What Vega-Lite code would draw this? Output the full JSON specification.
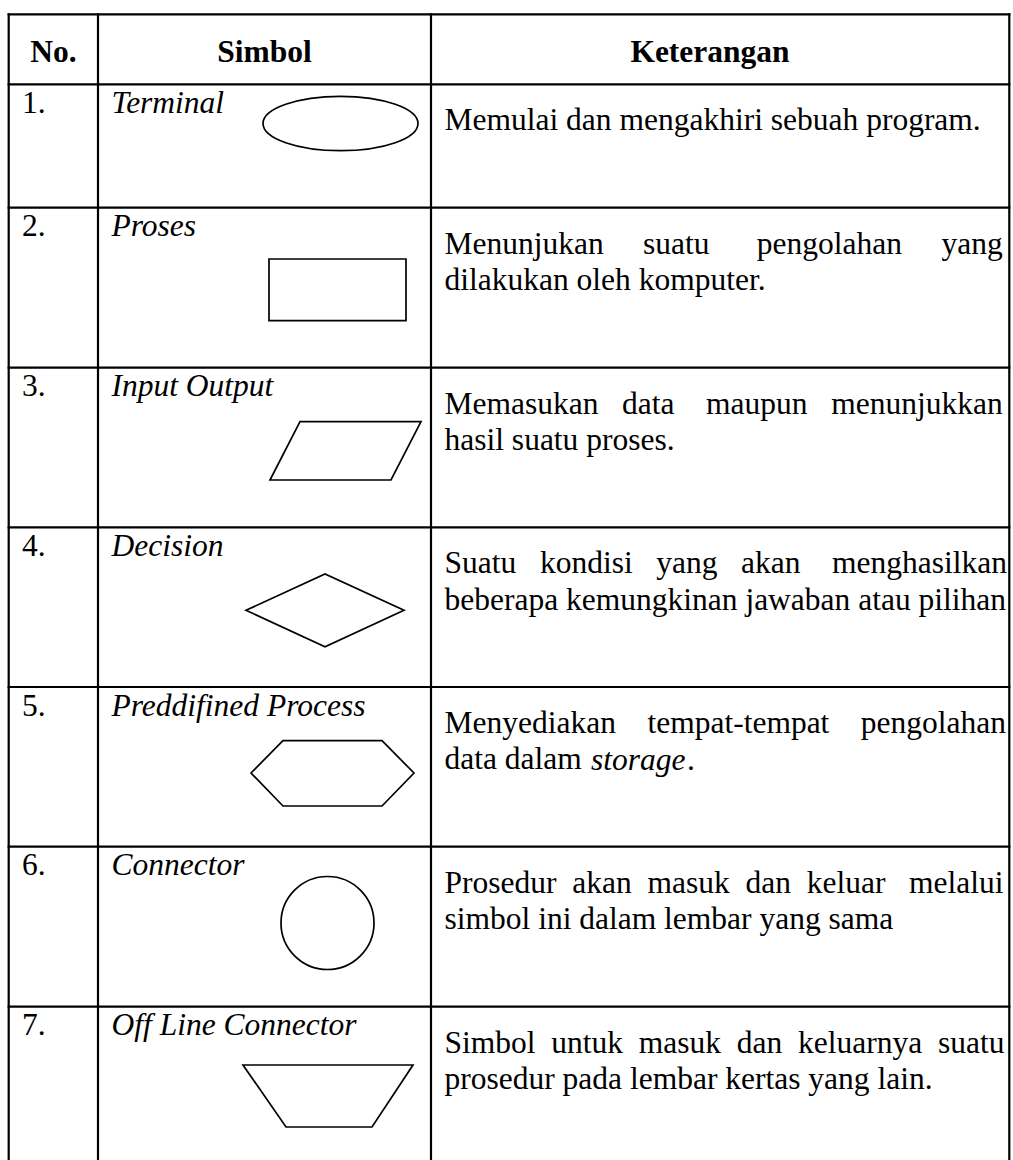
{
  "$schema": "https://vega.github.io/schema/vega-lite/v6.json",
  "width": 1013,
  "height": 1160,
  "padding": 0,
  "autosize": {"type": "none"},
  "background": "white",
  "config": {"view": {"stroke": null}},
  "datasets": {
    "header": [
      {"row": 0, "col": 0, "label": "No."},
      {"row": 0, "col": 1, "label": "Simbol"},
      {"row": 0, "col": 2, "label": "Keterangan"}
    ],
    "rows": [
      {"row": 1, "no": "1.", "simbol": "Terminal", "ket": ["Memulai dan mengakhiri sebuah program."]},
      {"row": 2, "no": "2.", "simbol": "Proses", "ket": ["Menunjukan \u00a0\u00a0\u00a0\u00a0suatu \u00a0\u00a0\u00a0\u00a0\u00a0pengolahan \u00a0\u00a0\u00a0\u00a0yang", "dilakukan oleh komputer."]},
      {"row": 3, "no": "3.", "simbol": "Input Output", "ket": ["Memasukan \u00a0\u00a0data \u00a0\u00a0\u00a0maupun \u00a0\u00a0menunjukkan", "hasil suatu proses."]},
      {"row": 4, "no": "4.", "simbol": "Decision", "ket": ["Suatu \u00a0\u00a0kondisi \u00a0\u00a0yang \u00a0\u00a0akan \u00a0\u00a0\u00a0menghasilkan", "beberapa kemungkinan jawaban atau pilihan"]},
      {"row": 5, "no": "5.", "simbol": "Preddifined Process", "ket": ["Menyediakan \u00a0\u00a0\u00a0tempat-tempat \u00a0\u00a0\u00a0pengolahan", "data dalam"]},
      {"row": 6, "no": "6.", "simbol": "Connector", "ket": ["Prosedur \u00a0akan \u00a0masuk \u00a0dan \u00a0keluar \u00a0\u00a0melalui", "simbol ini dalam lembar yang sama"]},
      {"row": 7, "no": "7.", "simbol": "Off Line Connector", "ket": ["Simbol \u00a0untuk \u00a0masuk \u00a0dan \u00a0keluarnya \u00a0suatu", "prosedur pada lembar kertas yang lain."]}
    ],
    "cols": [{"col": 0}, {"col": 1}, {"col": 2}, {"col": 3}],
    "lines": [{"line": 0}, {"line": 1}, {"line": 2}, {"line": 3}, {"line": 4}, {"line": 5}, {"line": 6}, {"line": 7}],
    "italic": [{"row": 5, "frag": "storage"}],
    "dot": [{"row": 5, "frag": "."}]
  },
  "resolve": {"scale": {"x": "independent"}},
  "layer": [
    {
      "data": {"name": "cols"},
      "mark": {"type": "rule", "color": "black", "strokeWidth": 2.2, "strokeCap": "square"},
      "encoding": {
        "x": {"field": "col", "type": "quantitative", "axis": null, "scale": {"domain": [0, 1, 2, 3], "range": [8.7, 98, 431, 1009.3], "nice": false, "zero": false}},
        "y": {"datum": 0, "type": "quantitative", "axis": null, "scale": {"domain": [0, 1, 2, 3, 4, 5, 6, 7, 8], "range": [14.3, 84.3, 207.7, 367.7, 527.3, 687, 846.7, 1006.7, 1166.7], "nice": false, "zero": false}},
        "y2": {"datum": 8}
      }
    },
    {
      "data": {"name": "lines"},
      "mark": {"type": "rule", "color": "black", "strokeWidth": 2.2, "strokeCap": "square"},
      "encoding": {
        "y": {"field": "line", "type": "quantitative", "axis": null, "scale": {"domain": [0, 1, 2, 3, 4, 5, 6, 7, 8], "range": [14.3, 84.3, 207.7, 367.7, 527.3, 687, 846.7, 1006.7, 1166.7], "nice": false, "zero": false}},
        "x": {"datum": 0, "type": "quantitative", "axis": null, "scale": {"domain": [0, 1, 2, 3], "range": [8.7, 98, 431, 1009.3], "nice": false, "zero": false}},
        "x2": {"datum": 3}
      }
    },
    {
      "data": {"name": "header"},
      "mark": {"type": "text", "font": "Liberation Serif", "fontSize": 31.5, "fontWeight": "bold", "align": "center", "baseline": "alphabetic", "dy": 48, "color": "black"},
      "encoding": {
        "x": {"field": "col", "type": "quantitative", "axis": null, "scale": {"domain": [0, 1, 2], "range": [53.35, 264.5, 710], "nice": false, "zero": false}},
        "y": {"field": "row", "type": "quantitative", "axis": null, "scale": {"domain": [0, 1, 2, 3, 4, 5, 6, 7, 8], "range": [14.3, 84.3, 207.7, 367.7, 527.3, 687, 846.7, 1006.7, 1166.7], "nice": false, "zero": false}},
        "text": {"field": "label", "type": "nominal"}
      }
    },
    {
      "data": {"name": "rows"},
      "mark": {"type": "text", "font": "Liberation Serif", "fontSize": 31.5, "align": "left", "baseline": "alphabetic", "dx": 13.3, "dy": 28.7, "color": "black"},
      "encoding": {
        "x": {"datum": 0, "type": "quantitative", "axis": null, "scale": {"domain": [0, 1, 2, 3], "range": [8.7, 98, 431, 1009.3], "nice": false, "zero": false}},
        "y": {"field": "row", "type": "quantitative", "axis": null, "scale": {"domain": [0, 1, 2, 3, 4, 5, 6, 7, 8], "range": [14.3, 84.3, 207.7, 367.7, 527.3, 687, 846.7, 1006.7, 1166.7], "nice": false, "zero": false}},
        "text": {"field": "no", "type": "nominal"}
      }
    },
    {
      "data": {"name": "rows"},
      "mark": {"type": "text", "font": "Liberation Serif", "fontSize": 31.5, "fontStyle": "italic", "align": "left", "baseline": "alphabetic", "dx": 13.5, "dy": 28.7, "color": "black"},
      "encoding": {
        "x": {"datum": 1, "type": "quantitative", "axis": null, "scale": {"domain": [0, 1, 2, 3], "range": [8.7, 98, 431, 1009.3], "nice": false, "zero": false}},
        "y": {"field": "row", "type": "quantitative", "axis": null, "scale": {"domain": [0, 1, 2, 3, 4, 5, 6, 7, 8], "range": [14.3, 84.3, 207.7, 367.7, 527.3, 687, 846.7, 1006.7, 1166.7], "nice": false, "zero": false}},
        "text": {"field": "simbol", "type": "nominal"}
      }
    },
    {
      "data": {"name": "rows"},
      "mark": {"type": "text", "font": "Liberation Serif", "fontSize": 31.5, "align": "left", "baseline": "alphabetic", "dx": 13.5, "dy": 45.8, "lineHeight": 36.7, "color": "black"},
      "encoding": {
        "x": {"datum": 2, "type": "quantitative", "axis": null, "scale": {"domain": [0, 1, 2, 3], "range": [8.7, 98, 431, 1009.3], "nice": false, "zero": false}},
        "y": {"field": "row", "type": "quantitative", "axis": null, "scale": {"domain": [0, 1, 2, 3, 4, 5, 6, 7, 8], "range": [14.3, 84.3, 207.7, 367.7, 527.3, 687, 846.7, 1006.7, 1166.7], "nice": false, "zero": false}},
        "text": {"field": "ket", "type": "nominal"}
      }
    },
    {
      "data": {"name": "italic"},
      "mark": {"type": "text", "font": "Liberation Serif", "fontSize": 31.5, "fontStyle": "italic", "align": "left", "baseline": "alphabetic", "dx": 160, "dy": 82.5, "color": "black"},
      "encoding": {
        "x": {"datum": 2, "type": "quantitative", "axis": null, "scale": {"domain": [0, 1, 2, 3], "range": [8.7, 98, 431, 1009.3], "nice": false, "zero": false}},
        "y": {"field": "row", "type": "quantitative", "axis": null, "scale": {"domain": [0, 1, 2, 3, 4, 5, 6, 7, 8], "range": [14.3, 84.3, 207.7, 367.7, 527.3, 687, 846.7, 1006.7, 1166.7], "nice": false, "zero": false}},
        "text": {"field": "frag", "type": "nominal"}
      }
    },
    {
      "data": {"name": "dot"},
      "mark": {"type": "text", "font": "Liberation Serif", "fontSize": 31.5, "align": "left", "baseline": "alphabetic", "dx": 256, "dy": 82.5, "color": "black"},
      "encoding": {
        "x": {"datum": 2, "type": "quantitative", "axis": null, "scale": {"domain": [0, 1, 2, 3], "range": [8.7, 98, 431, 1009.3], "nice": false, "zero": false}},
        "y": {"field": "row", "type": "quantitative", "axis": null, "scale": {"domain": [0, 1, 2, 3, 4, 5, 6, 7, 8], "range": [14.3, 84.3, 207.7, 367.7, 527.3, 687, 846.7, 1006.7, 1166.7], "nice": false, "zero": false}},
        "text": {"field": "frag", "type": "nominal"}
      }
    },
    {
      "data": {"name": "rows"},
      "mark": {"type": "point", "filled": false, "size": 40000, "strokeWidth": 1.7, "color": "black", "opacity": 1},
      "encoding": {
        "x": {"datum": 2, "type": "quantitative", "axis": null, "scale": {"domain": [0, 1, 2, 3], "range": [8.7, 98, 431, 1009.3], "nice": false, "zero": false}},
        "y": {"field": "row", "type": "quantitative", "axis": null, "scale": {"domain": [0, 1, 2, 3, 4, 5, 6, 7, 8], "range": [14.3, 84.3, 207.7, 367.7, 527.3, 687, 846.7, 1006.7, 1166.7], "nice": false, "zero": false}},
        "shape": {
          "field": "simbol",
          "type": "nominal",
          "legend": null,
          "scale": {
            "domain": ["Terminal", "Proses", "Input Output", "Decision", "Preddifined Process", "Connector", "Off Line Connector"],
            "range": [
              "M -1.68 0.392 A 0.775 0.272 0 1 0 -0.13 0.392 A 0.775 0.272 0 1 0 -1.68 0.392 Z",
              "M -1.62 0.513 L -0.25 0.513 L -0.25 1.13 L -1.62 1.13 Z",
              "M -1.31 0.54 L -0.10 0.54 L -0.40 1.123 L -1.61 1.123 Z",
              "M -1.85 0.83 L -1.06 0.467 L -0.27 0.83 L -1.06 1.194 Z",
              "M -1.80 0.86 L -1.48 0.537 L -0.49 0.537 L -0.17 0.86 L -0.49 1.19 L -1.48 1.19 Z",
              "M -1.5 0.763 A 0.465 0.465 0 1 0 -0.57 0.763 A 0.465 0.465 0 1 0 -1.5 0.763 Z",
              "M -1.88 0.583 L -0.18 0.583 L -0.59 1.203 L -1.45 1.203 Z"
            ]
          }
        }
      }
    }
  ]
}
